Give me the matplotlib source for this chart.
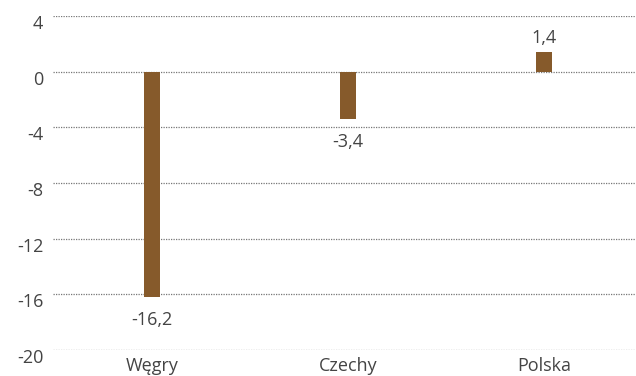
import matplotlib.pyplot as plt
from matplotlib.transforms import ScaledTranslation

countries = ["Węgry", "Czechy", "Polska"]
values = [-16.2, -3.4, 1.4]
yticks = [4, 0, -4, -8, -12, -16, -20]

plt.rcParams['font.family'] = ['Open Sans', 'DejaVu Sans']

fig = plt.figure(figsize=(6.36, 3.76), dpi=100)
ax = fig.add_axes([53 / 636, 26 / 376, 583 / 636, 334 / 376])

x = range(len(countries))
ax.bar(x, values, width=0.082, color='#865a2b', zorder=3)

for xi, v in zip(x, values):
    label = f"{v:.1f}".replace('.', ',')
    if v < 0:
        ax.annotate(label, (xi, v), xytext=(0, -10), textcoords='offset points',
                    ha='center', va='top', fontsize=13, color='#444444')
    else:
        ax.annotate(label, (xi, v), xytext=(0, 4), textcoords='offset points',
                    ha='center', va='bottom', fontsize=13, color='#444444')

ax.set_xlim(-0.505, 2.47)
ax.set_ylim(-20, 4)
ax.set_yticks(yticks)
ax.set_yticklabels([str(t) for t in yticks])
ax.set_xticks(list(x))
ax.set_xticklabels(countries)
ax.tick_params(length=0, labelsize=13, labelcolor='#444444')
ax.tick_params(axis='y', pad=7)
ax.tick_params(axis='x', pad=5)

# y labels hang just under their gridline
shift = ScaledTranslation(0, 0.8 / 72, fig.dpi_scale_trans)
for lbl in ax.get_yticklabels():
    lbl.set_verticalalignment('top')
    lbl.set_transform(lbl.get_transform() + shift)

ax.grid(axis='y', linestyle=(0, (1, 1)), color='#777777', linewidth=0.9, zorder=0)
for s in ax.spines.values():
    s.set_visible(False)

fig.savefig('out.png', dpi=100)
